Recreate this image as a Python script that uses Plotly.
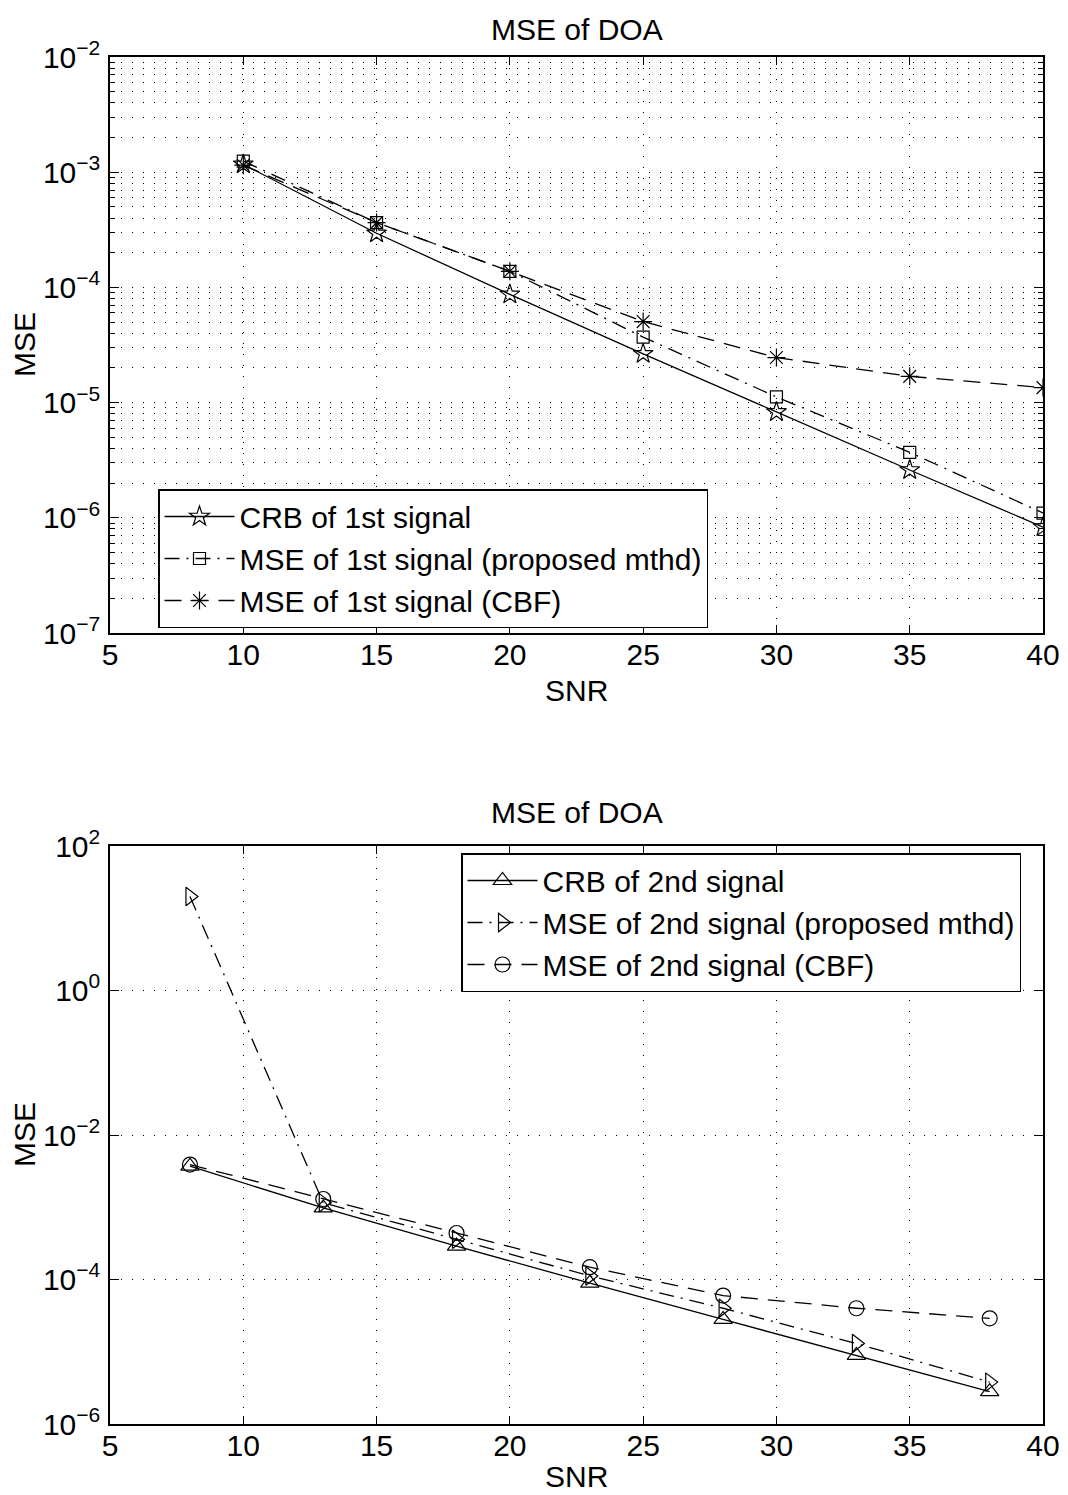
import plotly.graph_objects as go

# ---------------- data ----------------
snr_top = [10, 15, 20, 25, 30, 35, 40]
crb_1st = [1.17e-3, 2.95e-4, 8.7e-5, 2.65e-5, 8.3e-6, 2.6e-6, 8.3e-7]
prop_1st = [1.25e-3, 3.65e-4, 1.38e-4, 3.7e-5, 1.12e-5, 3.7e-6, 1.1e-6]
cbf_1st = [1.15e-3, 3.65e-4, 1.38e-4, 5.05e-5, 2.46e-5, 1.69e-5, 1.35e-5]

snr_bot = [8, 13, 18, 23, 28, 33, 38]
crb_2nd = [3.7e-3, 9.8e-4, 2.9e-4, 8.9e-5, 2.8e-5, 8.9e-6, 2.8e-6]
prop_2nd = [20.0, 1.15e-3, 3.6e-4, 1.12e-4, 4.0e-5, 1.3e-5, 3.8e-6]
cbf_2nd = [3.9e-3, 1.3e-3, 4.4e-4, 1.48e-4, 6.0e-5, 4.0e-5, 2.9e-5]

x_ticks = [5, 10, 15, 20, 25, 30, 35, 40]
top_exps = [-7, -6, -5, -4, -3, -2]
bot_exps = [-6, -4, -2, 0, 2]
minor_digits = [2, 3, 4, 5, 6, 7, 8, 9]

title_text = "MSE of DOA"
xlabel = "SNR"
ylabel = "MSE"

W, H = 1068, 1495
FONT = "Liberation Sans, Arial, Helvetica, sans-serif"
FS = 30
DOT = "1px,10px"
DASH = "17px,10px"
DASHDOT = "15px,7px,2px,7px"


def pow_label(e):
    s = str(e).replace("-", "\u2212")
    return f"10<sup>{s}</sup>"


fig = go.Figure()

lw = 1.3
ml = dict(color="black", width=1.2)

# top plot
fig.add_trace(go.Scatter(x=snr_top, y=crb_1st, name="CRB of 1st signal", mode="lines+markers",
                         line=dict(color="black", width=lw),
                         marker=dict(symbol="star-open", size=15, color="black", line=ml),
                         xaxis="x", yaxis="y", legend="legend"))
fig.add_trace(go.Scatter(x=snr_top, y=prop_1st, name="MSE of 1st signal (proposed mthd)", mode="lines+markers",
                         line=dict(color="black", width=lw, dash=DASHDOT),
                         marker=dict(symbol="square-open", size=12, color="black", line=ml),
                         xaxis="x", yaxis="y", legend="legend"))
fig.add_trace(go.Scatter(x=snr_top, y=cbf_1st, name="MSE of 1st signal (CBF)", mode="lines+markers",
                         line=dict(color="black", width=lw, dash=DASH),
                         marker=dict(symbol="asterisk-open", size=15, color="black", line=ml),
                         xaxis="x", yaxis="y", legend="legend"))

# bottom plot
fig.add_trace(go.Scatter(x=snr_bot, y=crb_2nd, name="CRB of 2nd signal", mode="lines+markers",
                         line=dict(color="black", width=lw),
                         marker=dict(symbol="triangle-up-open", size=16, color="black", line=ml),
                         xaxis="x2", yaxis="y2", legend="legend2"))
fig.add_trace(go.Scatter(x=snr_bot, y=prop_2nd, name="MSE of 2nd signal (proposed mthd)", mode="lines+markers",
                         line=dict(color="black", width=lw, dash=DASHDOT),
                         marker=dict(symbol="triangle-right-open", size=16, color="black", line=ml),
                         xaxis="x2", yaxis="y2", legend="legend2"))
fig.add_trace(go.Scatter(x=snr_bot, y=cbf_2nd, name="MSE of 2nd signal (CBF)", mode="lines+markers",
                         line=dict(color="black", width=lw, dash=DASH),
                         marker=dict(symbol="circle-open", size=15, color="black", line=ml),
                         xaxis="x2", yaxis="y2", legend="legend2"))

# geometry (pixels -> paper)
xl, xr = 110, 1043
t1, b1 = 57, 633
t2, b2 = 846, 1424


def py(p):
    return 1 - p / H


xdom = [xl / W, xr / W]

common_x = dict(range=[5, 40], tickvals=x_ticks, ticktext=[str(v) for v in x_ticks],
                showline=True, linecolor="black", linewidth=1.5, mirror="ticks",
                ticks="inside", ticklen=8, tickcolor="black", tickwidth=1,
                showgrid=True, gridcolor="black", gridwidth=1, griddash=DOT,
                zeroline=False, automargin=False, ticklabelstandoff=-6,
                tickfont=dict(size=FS, color="black", family=FONT))

top_minor = [d * 10.0 ** e for e in top_exps[:-1] for d in minor_digits]

fig.update_layout(
    template="none",
    width=W, height=H, margin=dict(l=0, r=0, t=0, b=0, autoexpand=False),
    paper_bgcolor="white", plot_bgcolor="white",
    font=dict(family=FONT, size=FS, color="black"),
    showlegend=True,
    xaxis=dict(domain=xdom, anchor="y", **common_x),
    yaxis=dict(domain=[py(b1), py(t1)], anchor="x", type="log", range=[-7, -2],
               tickvals=[10.0 ** e for e in top_exps], ticktext=[pow_label(e) for e in top_exps],
               showline=True, linecolor="black", linewidth=1.5, mirror="ticks",
               ticks="inside", ticklen=9, tickcolor="black", tickwidth=1,
               showgrid=True, gridcolor="black", gridwidth=1, griddash=DOT,
               minor=dict(tickmode="array", tickvals=top_minor,
                          ticks="inside", ticklen=5, tickcolor="black", tickwidth=1,
                          showgrid=True, gridcolor="black", gridwidth=1, griddash=DOT),
               zeroline=False, automargin=False, ticklabelstandoff=2,
               tickfont=dict(size=FS, color="black", family=FONT)),
    xaxis2=dict(domain=xdom, anchor="y2", **common_x),
    yaxis2=dict(domain=[py(b2), py(t2)], anchor="x2", type="log", range=[-6, 2],
                tickvals=[10.0 ** e for e in bot_exps], ticktext=[pow_label(e) for e in bot_exps],
                showline=True, linecolor="black", linewidth=1.5, mirror="ticks",
                ticks="inside", ticklen=9, tickcolor="black", tickwidth=1,
                showgrid=True, gridcolor="black", gridwidth=1, griddash=DOT,
                zeroline=False, automargin=False, ticklabelstandoff=2,
                tickfont=dict(size=FS, color="black", family=FONT)),
    legend=dict(x=158 / W, y=py(489), xanchor="left", yanchor="top",
                bgcolor="white", bordercolor="black", borderwidth=1.5,
                font=dict(size=FS, family=FONT, color="black"), itemwidth=70,
                tracegroupgap=0),
    legend2=dict(x=461 / W, y=py(853), xanchor="left", yanchor="top",
                 bgcolor="white", bordercolor="black", borderwidth=1.5,
                 font=dict(size=FS, family=FONT, color="black"), itemwidth=70,
                 tracegroupgap=0),
)

ann_font = dict(size=FS, family=FONT, color="black")
xc = (xl + xr) / 2 / W
annotations = [
    dict(text=title_text, x=xc, y=py(30), xref="paper", yref="paper", showarrow=False,
         xanchor="center", yanchor="middle", font=ann_font),
    dict(text=title_text, x=xc, y=py(812), xref="paper", yref="paper", showarrow=False,
         xanchor="center", yanchor="middle", font=ann_font),
    dict(text=xlabel, x=xc, y=py(690), xref="paper", yref="paper", showarrow=False,
         xanchor="center", yanchor="middle", font=ann_font),
    dict(text=xlabel, x=xc, y=py(1476), xref="paper", yref="paper", showarrow=False,
         xanchor="center", yanchor="middle", font=ann_font),
    dict(text=ylabel, x=24 / W, y=py((t1 + b1) / 2), xref="paper", yref="paper", showarrow=False,
         xanchor="center", yanchor="middle", textangle=-90, font=ann_font),
    dict(text=ylabel, x=24 / W, y=py((t2 + b2) / 2), xref="paper", yref="paper", showarrow=False,
         xanchor="center", yanchor="middle", textangle=-90, font=ann_font),
]
fig.update_layout(annotations=annotations)

fig.write_html("out.html")
